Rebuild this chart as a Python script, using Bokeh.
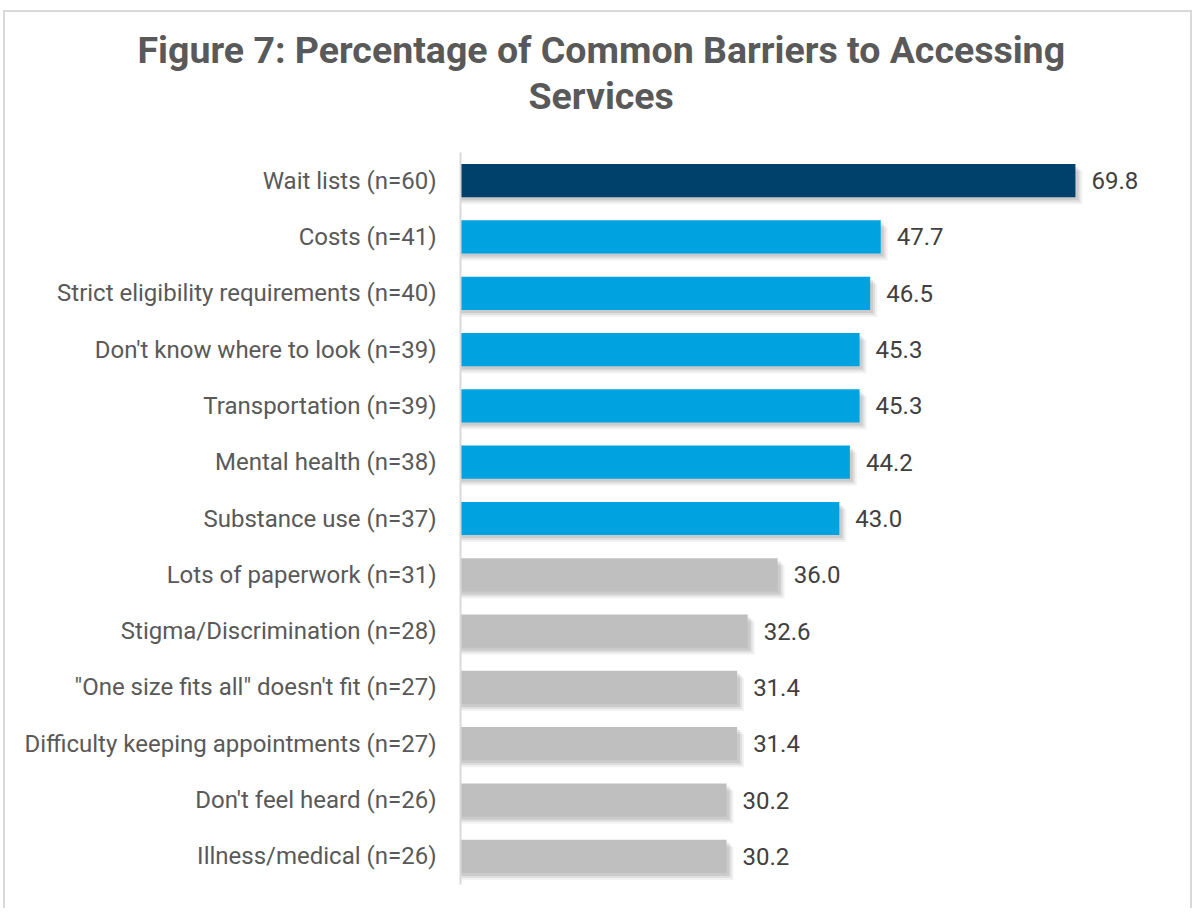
from bokeh.plotting import figure
from bokeh.models import ColumnDataSource, Range1d, FactorRange, Title
from bokeh.transform import dodge
from bokeh.core.properties import value
from bokeh.embed import file_html
from bokeh.resources import INLINE

title_lines = ["Figure 7: Percentage of Common Barriers to Accessing", "Services"]
categories = [
    "Wait lists (n=60)",
    "Costs (n=41)",
    "Strict eligibility requirements (n=40)",
    "Don't know where to look (n=39)",
    "Transportation (n=39)",
    "Mental health (n=38)",
    "Substance use (n=37)",
    "Lots of paperwork (n=31)",
    "Stigma/Discrimination (n=28)",
    "\"One size fits all\" doesn't fit (n=27)",
    "Difficulty keeping appointments (n=27)",
    "Don't feel heard (n=26)",
    "Illness/medical (n=26)",
]
percent = [69.8, 47.7, 46.5, 45.3, 45.3, 44.2, 43.0, 36.0, 32.6, 31.4, 31.4, 30.2, 30.2]
bar_colors = ["#00416B"] + ["#00A3E0"] * 6 + ["#BFBFBF"] * 6
value_labels = [f"{v:.1f}" for v in percent]

PX_X = 1 / 8.81   # data units per pixel (x)
PX_Y = 1 / 56.3   # category units per pixel (y)

src = ColumnDataSource(dict(cat=categories, pct=percent, color=bar_colors, lab=value_labels))

p = figure(
    width=1189, height=898, title=None,
    y_range=FactorRange(factors=categories[::-1], range_padding=0),
    x_range=Range1d(0, 690 * PX_X),
    output_backend="svg", toolbar_location=None,
    min_border_left=455, min_border_right=44, min_border_top=140, min_border_bottom=26,
)
p.margin = (10, 0, 0, 3)
p.styles = {"border-top": "2px solid #d9d9d9", "border-left": "2px solid #d9d9d9",
            "border-right": "2px solid #d9d9d9"}

# soft shadows
for k, a in [(7, 0.05), (5, 0.07), (3, 0.09)]:
    sh = ColumnDataSource(dict(cat=categories, right=[v + k * PX_X for v in percent]))
    p.hbar(y=dodge("cat", -k * PX_Y, range=p.y_range), left=0, right="right", height=0.59,
           source=sh, fill_color="black", fill_alpha=a, line_color=None)

p.hbar(y="cat", left=0, right="pct", height=0.59, source=src,
       fill_color="color", line_color=None)

p.text(x="pct", y="cat", text="lab", source=src, x_offset=16,
       text_baseline="middle", text_align="left",
       text_font=value("Roboto"), text_font_size="24px", text_color="#404040")

# title lines: first added is closest to the frame
title_offsets = [-323, 68]
title_standoffs = [-70, 70]
for line, off, so in reversed(list(zip(title_lines, title_offsets, title_standoffs))):
    t = Title(text=line, align="left", offset=off, text_font="Roboto",
              text_font_size="37.5px", text_font_style="bold", text_color="#595959",
              standoff=so)
    p.add_layout(t, "above")

p.xaxis.visible = False
p.xgrid.visible = False
p.ygrid.visible = False
p.outline_line_color = None

ax = p.yaxis[0]
ax.axis_line_color = "#d9d9d9"
ax.axis_line_width = 2
ax.major_tick_line_color = None
ax.minor_tick_line_color = None
ax.major_label_text_font = "Roboto"
ax.major_label_text_font_size = "24px"
ax.major_label_text_color = "#595959"
ax.major_label_standoff = 18

open("out.html", "w").write(file_html(p, INLINE))
